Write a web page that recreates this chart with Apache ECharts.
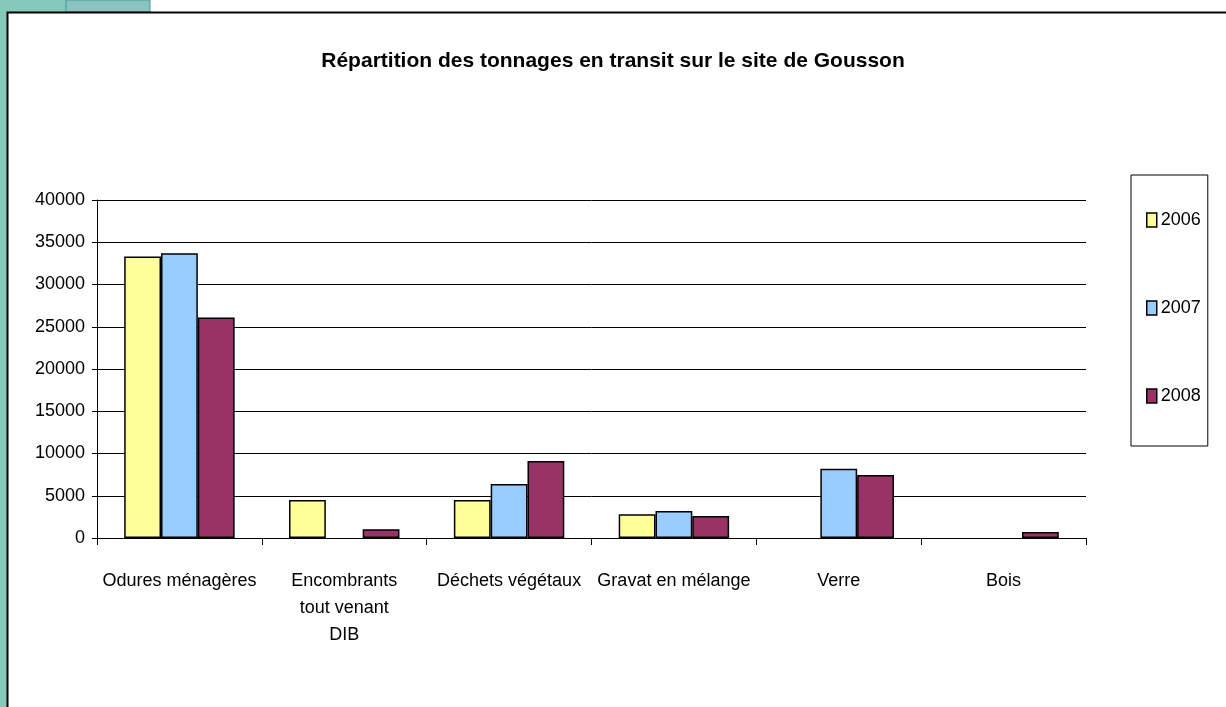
<!DOCTYPE html>
<html>
<head>
<meta charset="utf-8">
<script src="https://cdn.jsdelivr.net/npm/echarts@6/dist/echarts.min.js"></script>
<style>
  html, body { margin: 0; padding: 0; background: #fff; }
  #chart { width: 1226px; height: 707px; }
</style>
</head>
<body>
<div id="chart"></div>
<script>
// data (null = no bar drawn)
const categories = ['Odures ménagères', 'Encombrants\ntout venant\nDIB', 'Déchets végétaux', 'Gravat en mélange', 'Verre', 'Bois'];
const years = ['2006', '2007', '2008'];
const values2006 = [33300, 4500, 4500, 2800, null, null];
const values2007 = [33700, null, 6400, 3200, 8200, null];
const values2008 = [26100, 1050, 9100, 2600, 7450, 700];
const yearColors = ['#FFFF99', '#99CCFF', '#993366'];

const FONT = '"Liberation Sans Narrow", "Liberation Sans", Arial, sans-serif';

const chart = echarts.init(document.getElementById('chart'));

function barSeries(name, data, color) {
    return {
        name: name,
        type: 'bar',
        data: data,
        barGap: '0%',
        barCategoryGap: '33%',
        itemStyle: { color: color, borderColor: '#000', borderWidth: 1.5 },
    };
}

const option = {
    animation: false,
    backgroundColor: '#fff',
    title: {
        text: 'Répartition des tonnages en transit sur le site de Gousson',
        left: 'center',
        top: 46,
        textStyle: { fontFamily: FONT, fontSize: 21, fontWeight: 'bold', color: '#000' },
    },
    legend: {
        orient: 'vertical',
        left: 1131,
        top: 175,
        padding: [36, 7, 41, 15],
        itemGap: 70,
        itemWidth: 10,
        itemHeight: 14,
        icon: 'rect',
        itemStyle: { borderColor: '#000', borderWidth: 1.5 },
        borderColor: '#000',
        borderWidth: 1,
        textStyle: { fontFamily: FONT, fontSize: 18, color: '#000', padding: [0, 0, 0, -1] },
        data: years,
    },
    grid: { left: 97, right: 140, top: 200, bottom: 169, containLabel: false },
    xAxis: {
        type: 'category',
        data: categories,
        axisLine: { lineStyle: { color: '#000', width: 1 } },
        axisTick: { show: true, length: 7, lineStyle: { color: '#000' } },
        axisLabel: {
            fontFamily: FONT, fontSize: 18, color: '#000', margin: 30,
            lineHeight: 27, interval: 0,
        },
    },
    yAxis: {
        type: 'value',
        min: 0,
        max: 40000,
        interval: 5000,
        axisLine: { show: true, lineStyle: { color: '#000', width: 1 } },
        axisTick: { show: true, length: 5, lineStyle: { color: '#000' } },
        axisLabel: { fontFamily: FONT, fontSize: 18, color: '#000', margin: 12, formatter: (v) => String(v) },
        splitLine: { lineStyle: { color: '#000', width: 1 } },
    },
    series: [
        barSeries(years[0], values2006, yearColors[0]),
        barSeries(years[1], values2007, yearColors[1]),
        barSeries(years[2], values2008, yearColors[2]),
    ],
    graphic: [
        // teal strip on the left and the patch at the top
        { type: 'rect', shape: { x: 0, y: 0, width: 7, height: 707 }, style: { fill: '#84C9BA' }, silent: true },
        { type: 'rect', shape: { x: 0, y: 0, width: 150, height: 12 }, style: { fill: '#84C9BA' }, silent: true },
        { type: 'rect', shape: { x: 66, y: 0, width: 84, height: 12 }, style: { fill: '#8CC2C0', stroke: '#3E9A98', lineWidth: 1 }, silent: true },
        // chart frame
        { type: 'rect', shape: { x: 7.5, y: 12.5, width: 1230, height: 710 }, style: { fill: 'none', stroke: '#000', lineWidth: 2 }, silent: true },
    ],
};

chart.setOption(option);
</script>
</body>
</html>
